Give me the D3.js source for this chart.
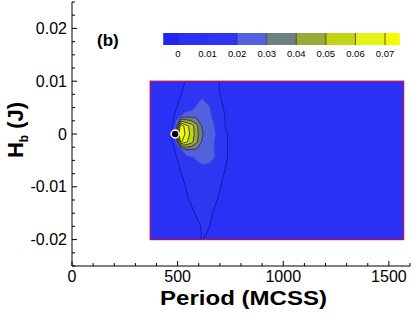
<!DOCTYPE html>
<html>
<head>
<meta charset="utf-8">
<script src="https://cdn.jsdelivr.net/npm/d3@7"></script>
<style>
  body { margin: 0; background: #fff; }
  text { font-family: "Liberation Sans", Arial, sans-serif; }
</style>
</head>
<body>
<div id="chart"></div>
<script>
// grid columns (period, MCSS) and rows (H_b, J)
const periods = [370, 440, 480, 495, 515, 540, 565, 590, 615, 650, 690, 730, 800, 1000, 1570];
const hValues = [0.01, 0.0075, 0.005, 0.0035, 0.0015, 0, -0.0015, -0.003, -0.0045, -0.0065, -0.009, -0.012, -0.015, -0.0175, -0.02];
// contour field, one row per hValues entry
const field = [
  [.004, .005, .006, .007, .008, .0105, .012, .013, .013, .012, .0105, .007, .005, .004, .003],
  [.004, .005, .007, .008, .0098, .012, .014, .016, .0185, .016, .011, .007, .005, .004, .003],
  [.004, .005, .008, .0098, .012, .015, .017, .021, .023, .0205, .013, .0085, .005, .004, .003],
  [.004, .006, .0095, .013, .0198, .024, .025, .026, .025, .0215, .015, .009, .005, .004, .003],
  [.004, .006, .0105, .027, .078, .064, .0557, .0428, .0295, .024, .017, .009, .005, .004, .003],
  [.004, .006, .012, .05, .085, .066, .057, .044, .031, .025, .018, .0105, .005, .004, .003],
  [.004, .006, .0105, .022, .072, .062, .054, .042, .0295, .024, .017, .0105, .005, .004, .003],
  [.004, .006, .009, .0115, .017, .0285, .029, .029, .028, .024, .017, .0105, .005, .004, .003],
  [.004, .005, .008, .0098, .013, .016, .0185, .021, .0225, .023, .018, .0105, .005, .004, .003],
  [.004, .005, .007, .008, .0105, .013, .015, .017, .0185, .017, .014, .0095, .005, .004, .003],
  [.004, .005, .006, .007, .0085, .011, .013, .014, .0145, .014, .012, .008, .005, .004, .003],
  [.004, .005, .005, .006, .007, .009, .0115, .013, .0135, .0125, .0101, .007, .005, .004, .003],
  [.004, .005, .005, .005, .006, .007, .0085, .0108, .0118, .0112, .008, .006, .005, .004, .003],
  [.004, .005, .005, .005, .005, .006, .007, .0085, .0104, .0101, .007, .005, .004, .004, .003],
  [.004, .005, .005, .005, .005, .005, .006, .008, .0102, .009, .006, .005, .004, .004, .003]
];
const levels = [0, 0.01, 0.02, 0.03, 0.04, 0.05, 0.06, 0.07];
const levelColors = ["#2224f2", "#2a30f4", "#2e36f2", "#5262de", "#6f8080", "#9aaa38", "#c2d414", "#e2f414", "#f4fa00"];
const levelLabels = ["0", "0.01", "0.02", "0.03", "0.04", "0.05", "0.06", "0.07"];
const marker = { period: 488, h: 0 };
const xTicks = [0, 500, 1000, 1500];
const yTicks = [-0.02, -0.01, 0, 0.01, 0.02];

const width = 415, height = 315;
const svg = d3.select("#chart").append("svg")
  .attr("width", width).attr("height", height);

const x = d3.scaleLinear().domain([0, 1600]).range([72, 410]);
const y = d3.scaleLinear().domain([-0.025, 0.025]).range([266, 2]);

// index -> data space (grid is not evenly spaced)
const colIdx = d3.scaleLinear().domain(periods.map((d, i) => i)).range(periods);
const rowIdx = d3.scaleLinear().domain(hValues.map((d, i) => i)).range(hValues);

const nx = periods.length, ny = hValues.length;
const flat = [];
field.forEach(row => row.forEach(v => flat.push(v)));

const thresholds = [-1].concat(levels);
const contours = d3.contours().size([nx, ny]).thresholds(thresholds).smooth(true)(flat);

// marching squares coords are offset by half a cell, clamp to grid
function toPx(p) {
  const ci = Math.max(0, Math.min(nx - 1, p[0] - 0.5));
  const ri = Math.max(0, Math.min(ny - 1, p[1] - 0.5));
  return [x(colIdx(ci)), y(rowIdx(ri))];
}
const geoPath = d3.geoPath(d3.geoTransform({
  point: function (px, py) {
    const q = toPx([px, py]);
    this.stream.point(q[0], q[1]);
  }
}));

const clip = svg.append("clipPath").attr("id", "fieldClip").append("rect")
  .attr("x", x(periods[0])).attr("y", y(hValues[0]))
  .attr("width", x(periods[nx - 1]) - x(periods[0]))
  .attr("height", y(hValues[ny - 1]) - y(hValues[0]));

const fieldG = svg.append("g").attr("clip-path", "url(#fieldClip)");
fieldG.selectAll("path.fill")
  .data(contours)
  .enter().append("path")
  .attr("class", "fill")
  .attr("d", geoPath)
  .attr("fill", (d, i) => levelColors[i])
  .attr("stroke", "none");

// contour lines
const lineColor = v => v <= 0.01 ? "#1414b4" : (v <= 0.02 ? "#4450d0" : "#333");
fieldG.selectAll("path.line")
  .data(contours.filter(c => c.value > 0))
  .enter().append("path")
  .attr("class", "line")
  .attr("d", geoPath)
  .attr("fill", "none")
  .attr("stroke", d => lineColor(d.value))
  .attr("stroke-width", 0.9);

// field border
svg.append("rect")
  .attr("x", x(periods[0])).attr("y", y(hValues[0]))
  .attr("width", x(periods[nx - 1]) - x(periods[0]))
  .attr("height", y(hValues[ny - 1]) - y(hValues[0]))
  .attr("fill", "none")
  .attr("stroke", "#c01050")
  .attr("stroke-width", 1.2);

svg.append("circle")
  .attr("cx", x(marker.period)).attr("cy", y(marker.h))
  .attr("r", 4)
  .attr("fill", "#000")
  .attr("stroke", "#fff")
  .attr("stroke-width", 1.5);

// axes with inward ticks
const xAxis = svg.append("g").attr("transform", `translate(0,${y.range()[0]})`);
xAxis.append("line").attr("x1", x.range()[0]).attr("x2", x.range()[1]).attr("stroke", "#000");
xAxis.selectAll("line.minor")
  .data(d3.range(0, 1601, 100))
  .enter().append("line")
  .attr("x1", d => x(d)).attr("x2", d => x(d))
  .attr("y1", 0).attr("y2", d => d % 500 === 0 ? -5 : -3)
  .attr("stroke", "#000");
xAxis.selectAll("text")
  .data(xTicks)
  .enter().append("text")
  .attr("x", d => x(d)).attr("y", 16)
  .attr("text-anchor", "middle")
  .attr("font-family", "DejaVu Sans")
  .attr("font-size", 16)
  .text(d => d);

const yAxis = svg.append("g").attr("transform", `translate(${x.range()[0]},0)`);
yAxis.append("line").attr("y1", y.range()[0]).attr("y2", y.range()[1]).attr("stroke", "#000");
yAxis.selectAll("line.minor")
  .data(d3.range(-0.025, 0.02501, 0.0025))
  .enter().append("line")
  .attr("y1", d => y(d)).attr("y2", d => y(d))
  .attr("x1", 0).attr("x2", d => Math.abs(Math.round(d * 10000) % 100) === 0 ? 5 : 3)
  .attr("stroke", "#000");
yAxis.selectAll("text")
  .data(yTicks)
  .enter().append("text")
  .attr("x", -5).attr("y", d => y(d))
  .attr("dy", "0.35em")
  .attr("text-anchor", "end")
  .attr("font-family", "DejaVu Sans")
  .attr("font-size", 16)
  .text(d => d === 0 ? "0" : d.toFixed(2));

svg.append("text")
  .attr("x", 160).attr("y", 305)
  .attr("font-size", 20).attr("font-weight", "bold")
  .attr("textLength", 167).attr("lengthAdjust", "spacingAndGlyphs")
  .text("Period (MCSS)");

const yLab = svg.append("text")
  .attr("transform", "translate(23,130) rotate(-90)")
  .attr("text-anchor", "middle")
  .attr("font-size", 22).attr("font-weight", "bold");
yLab.append("tspan").text("H");
yLab.append("tspan").attr("font-size", 12).attr("dy", 5).text("b");
yLab.append("tspan").attr("dy", -5).text(" (J)");

svg.append("text")
  .attr("x", 97).attr("y", 46)
  .attr("font-size", 17).attr("font-weight", "bold")
  .text("(b)");

// colour legend
const lx = d3.scaleLinear().domain([0, 0.07]).range([178, 385]);
const step = lx(0.01) - lx(0);
const legend = svg.append("g");
const segs = levelColors.map((c, i) => ({
  c: c,
  x0: i === 0 ? lx(0) - step / 2 : lx(levels[i - 1]),
  x1: i === levelColors.length - 1 ? lx(0.07) + step / 2 : lx(levels[i])
}));
legend.selectAll("rect")
  .data(segs)
  .enter().append("rect")
  .attr("x", d => d.x0).attr("y", 33)
  .attr("width", d => d.x1 - d.x0).attr("height", 12)
  .attr("fill", d => d.c);
legend.selectAll("line")
  .data(levels)
  .enter().append("line")
  .attr("x1", d => lx(d)).attr("x2", d => lx(d))
  .attr("y1", 33).attr("y2", 45)
  .attr("stroke", d => d >= 0.03 ? "#333" : "#1a22c8")
  .attr("stroke-width", 0.8);
legend.selectAll("text")
  .data(levels)
  .enter().append("text")
  .attr("x", d => lx(d)).attr("y", 57)
  .attr("text-anchor", "middle")
  .attr("font-size", 9.5)
  .text((d, i) => levelLabels[i]);
</script>
</body>
</html>
